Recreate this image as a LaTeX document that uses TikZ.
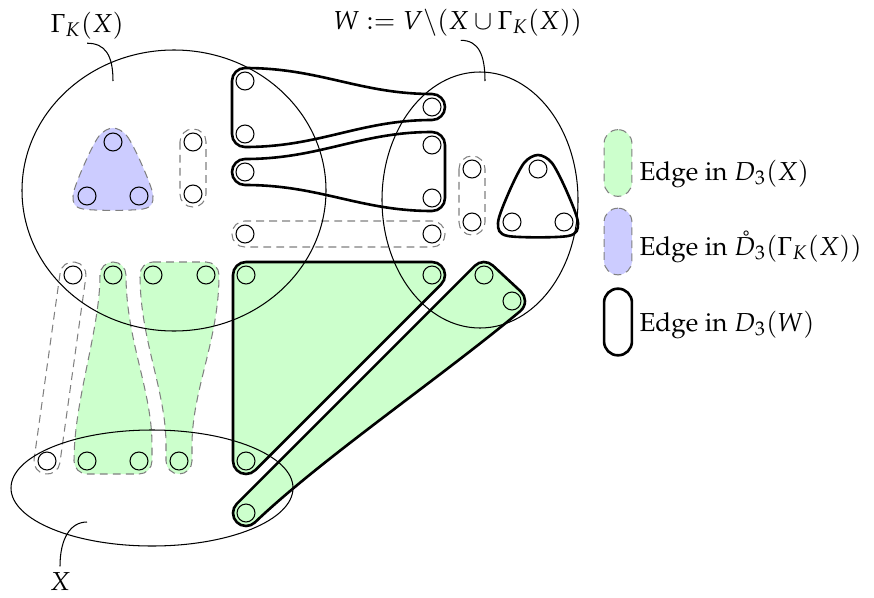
\documentclass[tikz,border=0pt]{standalone}
\usepackage[T1]{fontenc}
\usepackage{mathpazo}
\usepackage{tikz}
\usetikzlibrary{calc}

\begin{document}
\begin{tikzpicture}[
    x=0.0135cm, y=-0.0135cm,
    vtx/.style={circle, draw, thin, minimum size=6.9pt, inner sep=0pt},
    region/.style={draw, thin},
    xedge/.style={fill=green!20, draw=gray, dash pattern=on 3pt off 2pt},
    gedge/.style={fill=blue!20, draw=gray, dash pattern=on 3pt off 2pt},
    freeedge/.style={draw=gray, dash pattern=on 3pt off 2pt},
    wedge/.style={draw, line width=1pt},
    xwedge/.style={fill=green!20, draw, line width=1pt},
    legbox/.style={rectangle, rounded corners=5.3pt, minimum width=10.7pt, minimum height=25.6pt, inner sep=0pt},
    lbl/.style={inner sep=0pt}
]
\useasboundingbox (0,0) rectangle (874,597);

% edges inside Gamma_K(X)
\draw[gedge] plot[smooth cycle, tension=0.5] coordinates {(113,128) (127,136) (142,165) (153,196) (143,209) (83,209) (73,196) (84,165) (99,136)};
\draw[freeedge, rounded corners=4.9pt] (180,129) rectangle (206,207);

% edges between X and Gamma_K(X)
\draw[freeedge, rounded corners=4.9pt] (61.9,260.3) -- (87.7,263.9) -- (58.1,475.7) -- (32.3,472.1) -- cycle;
\draw[xedge] (113,262) .. controls (120.2,262) and (126,267.8) .. (126,275)
  .. controls (126,340) and (152,390) .. (152,445) -- (152,461)
  .. controls (152,468.2) and (146.2,474) .. (139,474) -- (87,474)
  .. controls (79.8,474) and (74,468.2) .. (74,461)
  .. controls (74,400) and (100,330) .. (100,275)
  .. controls (100,267.8) and (105.8,262) .. (113,262) -- cycle;
\draw[xedge] (153,262) -- (206,262)
  .. controls (213.2,262) and (219,267.8) .. (219,275)
  .. controls (219,340) and (192,390) .. (192,445) -- (192,461)
  .. controls (192,468.2) and (186.2,474) .. (179,474)
  .. controls (171.8,474) and (166,468.2) .. (166,461) -- (166,445)
  .. controls (166,390) and (140,340) .. (140,275)
  .. controls (140,267.8) and (145.8,262) .. (153,262) -- cycle;
\draw[xwedge] (246,262) -- (432,262)
  .. controls (439.2,262) and (445,267.8) .. (445,275)
  .. controls (445,278.5) and (443.6,281.8) .. (441.2,284.2)
  -- (255.2,470.2)
  .. controls (252.8,472.6) and (249.5,474) .. (246,474)
  .. controls (238.8,474) and (233,468.2) .. (233,461)
  -- (233,275)
  .. controls (233,267.8) and (238.8,262) .. (246,262) -- cycle;
\draw[xwedge] (474.8,265.8)
  .. controls (479.7,260.9) and (487.7,260.7) .. (492.8,265.5)
  -- (520.8,291.5)
  .. controls (523.4,294) and (525,297.4) .. (525,301)
  .. controls (525,304.8) and (523.3,308.5) .. (520.4,311)
  .. controls (440,378) and (320,460) .. (254.7,522.6)
  .. controls (252.3,524.8) and (249.2,526) .. (246,526)
  .. controls (238.8,526) and (233,520.2) .. (233,513)
  .. controls (233,509.6) and (234.4,506.2) .. (236.8,503.8)
  -- cycle;

% edges inside W
\draw[wedge] (232,81) -- (232,134)
  .. controls (232,141.2) and (237.8,147) .. (245,147)
  .. controls (320,147) and (360,120) .. (432,120)
  .. controls (439.2,120) and (445,114.2) .. (445,107)
  .. controls (445,99.8) and (439.2,94) .. (432,94)
  .. controls (360,94) and (320,68) .. (245,68)
  .. controls (237.8,68) and (232,73.8) .. (232,81) -- cycle;
\draw[wedge] (232,172)
  .. controls (232,164.8) and (237.8,159) .. (245,159)
  .. controls (320,159) and (360,132) .. (432,132)
  .. controls (439.2,132) and (445,137.8) .. (445,145)
  -- (445,198)
  .. controls (445,205.2) and (439.2,211) .. (432,211)
  .. controls (360,211) and (320,185) .. (245,185)
  .. controls (237.8,185) and (232,179.2) .. (232,172) -- cycle;
\draw[wedge] plot[smooth cycle, tension=0.5] coordinates {(538,155) (552,163) (567,192) (578,223) (568,236) (508,236) (498,223) (509,192) (524,163)};
\draw[freeedge, rounded corners=4.9pt] (232,221) rectangle (445,247);
\draw[freeedge, rounded corners=4.9pt] (459,156) rectangle (485,235);

% the three vertex sets
\draw[region] (174,190.5) ellipse [x radius=152, y radius=140.5];
\draw[region] (480,200) ellipse [x radius=98, y radius=128];
\draw[region] (152,488) ellipse [x radius=141, y radius=58];

% vertices
\foreach \vx/\vy [count=\i] in {113/142, 87/196, 139/196, 193/142, 193/194,
    245/81, 245/134, 245/172, 432/107, 432/145, 432/198, 245/234, 432/234,
    472/169, 472/222, 538/169, 512/222, 564/222,
    73/275, 113/275, 153/275, 206/275, 246/275, 432/275, 484/275, 512/301,
    47/461, 87/461, 139/461, 179/461, 246/461, 246/513}
  \node[vtx] (v\i) at (\vx,\vy) {};

% labels
\node[lbl, anchor=base west] (gammalbl) at (50,32) {$\Gamma_K(X)$};
\node[lbl, anchor=base west] (wlbl) at (333,29) {$W := V\backslash(X\cup\Gamma_K(X))$};
\node[lbl, anchor=base] (xlbl) at (60,590) {$X$};
\coordinate (gammapt) at (113,81);
\coordinate (wpt) at (485,81);
\coordinate (xpt) at (87,522);
\draw[region] ([yshift=-1.5pt]gammalbl.south) .. controls +(18,0) and +(0,-26) .. (gammapt);
\draw[region] ($(wlbl.south)+(3,4)$) .. controls +(18,0) and +(0,-26) .. (wpt);
\draw[region] ([yshift=2pt]xlbl.north) .. controls +(0,-27) and +(-17,0) .. (xpt);

% legend
\node[xedge, legbox] (legx) at (618,163) {};
\node[lbl, anchor=base west] (legxtxt) at (639,180) {Edge in $D_3(X)$};
\node[gedge, legbox] (legg) at (618,241.5) {};
\node[lbl, anchor=base west] (leggtxt) at (639,255) {Edge in $\mathring{D}_3(\Gamma_K(X))$};
\node[wedge, legbox] (legw) at (618,322) {};
\node[lbl, anchor=base west] (legwtxt) at (639,331) {Edge in $D_3(W)$};
\end{tikzpicture}
\end{document}
